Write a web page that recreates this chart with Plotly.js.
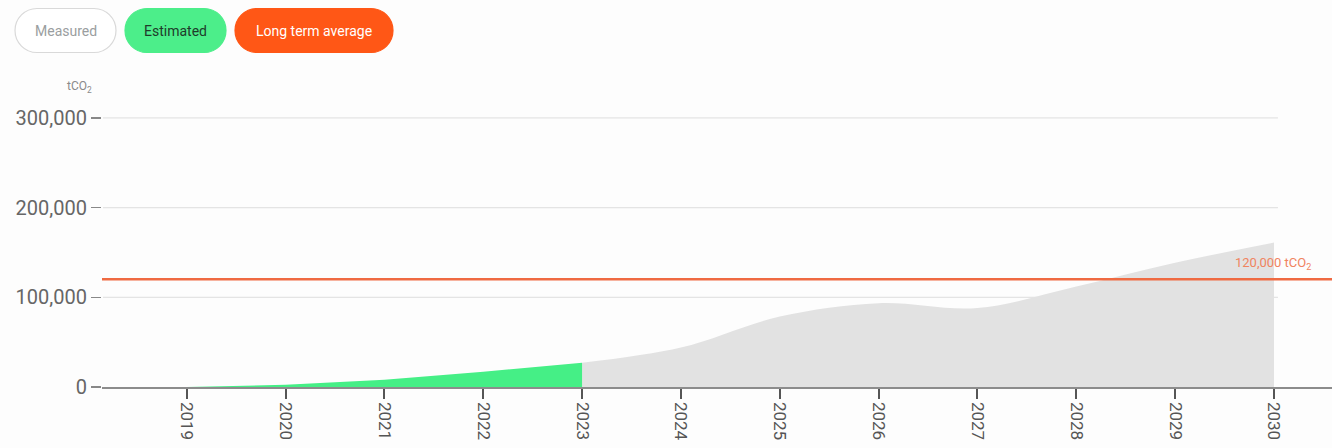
<!DOCTYPE html>
<html>
<head>
<meta charset="utf-8">
<script src="https://cdn.plot.ly/plotly-3.0.1.min.js"></script>
<style>
  html, body { margin: 0; padding: 0; background: #fdfdfd; }
  #chart { width: 1332px; height: 448px; }
</style>
</head>
<body>
<div id="chart"></div>
<script>
// ---- data ----
const estimatedYears = [2019, 2020, 2021, 2022, 2023];
const estimatedValues = [0, 2500, 8000, 17000, 27000];
const projectedYears = [2023, 2024, 2025, 2026, 2027, 2028, 2029, 2030];
const projectedValues = [27000, 44000, 78500, 93500, 88000, 112000, 138500, 161000];
const longTermAverage = 120000;
const yTicks = [0, 100000, 200000, 300000];
const xTicks = [2019, 2020, 2021, 2022, 2023, 2024, 2025, 2026, 2027, 2028, 2029, 2030];
const legendLabels = ["Measured", "Estimated", "Long term average"];
const unitLabel = "tCO<sub>2</sub>";

// ---- layout geometry ----
const W = 1332, H = 448;
const M = { l: 102, r: 0, t: 82, b: 61 };
const PW = W - M.l - M.r, PH = H - M.t - M.b;
const xRange = [2018.143, 2030.587];
const yRange = [0, 340000];
const px2x = px => (px - M.l) / PW;
const py2y = py => (H - M.b - py) / PH;

function pillPath(w, h) {
  const r = h / 2, a = w / 2 - r, k = 0.5523 * r;
  return `M ${-a},${-r} L ${a},${-r} ` +
    `C ${a + k},${-r} ${a + r},${-k} ${a + r},0 ` +
    `C ${a + r},${k} ${a + k},${r} ${a},${r} ` +
    `L ${-a},${r} ` +
    `C ${-a - k},${r} ${-a - r},${k} ${-a - r},0 ` +
    `C ${-a - r},${-k} ${-a - k},${-r} ${-a},${-r} Z`;
}

const pills = [
  { x0: 15, x1: 116, fill: '#ffffff', line: '#d9d9d9', text: '#9a9ea0', label: legendLabels[0] },
  { x0: 125, x1: 226, fill: '#4cee8a', line: '#4cee8a', text: '#1f3b2a', label: legendLabels[1] },
  { x0: 235, x1: 393, fill: '#ff5716', line: '#ff5716', text: '#ffffff', label: legendLabels[2] }
];
const pillTop = 8.5, pillBottom = 52.5;

const shapes = [];
const annotations = [];

pills.forEach(p => {
  const cx = (p.x0 + p.x1) / 2, cy = (pillTop + pillBottom) / 2;
  shapes.push({
    type: 'path', xref: 'paper', yref: 'paper',
    xsizemode: 'pixel', ysizemode: 'pixel',
    xanchor: px2x(cx), yanchor: py2y(cy),
    path: pillPath(p.x1 - p.x0, pillBottom - pillTop),
    fillcolor: p.fill, line: { color: p.line, width: 1.2 }
  });
  annotations.push({
    xref: 'paper', yref: 'paper', x: px2x(cx), y: py2y(cy),
    text: p.label, showarrow: false, xanchor: 'center', yanchor: 'middle',
    font: { family: 'Roboto, sans-serif', size: 14, color: p.text }
  });
});

// gridlines (end just past the last year)
yTicks.filter(v => v > 0).forEach(v => {
  shapes.push({
    type: 'line', xref: 'x', yref: 'y', x0: xRange[0] + 0.01, x1: 2030.04, y0: v, y1: v,
    line: { color: '#e4e4e4', width: 1.2 }, layer: 'below'
  });
});

// long term average line
shapes.push({
  type: 'line', xref: 'paper', yref: 'y', x0: 0, x1: 1,
  y0: longTermAverage, y1: longTermAverage,
  line: { color: '#ef6a42', width: 2.5 }, layer: 'above'
});

annotations.push({
  xref: 'paper', yref: 'y', x: 1, y: longTermAverage,
  xanchor: 'right', yanchor: 'bottom', xshift: -19, yshift: 5,
  text: '120,000 ' + unitLabel, showarrow: false,
  font: { family: 'Roboto, sans-serif', size: 13, color: '#f0845f' }
});

annotations.push({
  xref: 'paper', yref: 'paper', x: px2x(79), y: py2y(87),
  xanchor: 'center', yanchor: 'middle', text: unitLabel, showarrow: false,
  font: { family: 'Roboto, sans-serif', size: 12, color: '#8a8a8a' }
});

const traces = [
  {
    x: projectedYears, y: projectedValues, type: 'scatter', mode: 'lines',
    fill: 'tozeroy', fillcolor: '#e2e2e2',
    line: { width: 0, shape: 'spline', smoothing: 1, color: '#e2e2e2' },
    hoverinfo: 'skip', showlegend: false
  },
  {
    x: estimatedYears, y: estimatedValues, type: 'scatter', mode: 'lines',
    fill: 'tozeroy', fillcolor: '#45ef86',
    line: { width: 0, color: '#45ef86' },
    hoverinfo: 'skip', showlegend: false
  }
];

const layout = {
  width: W, height: H,
  margin: M,
  paper_bgcolor: '#fdfdfd', plot_bgcolor: '#fdfdfd',
  showlegend: false,
  font: { family: 'Roboto, sans-serif' },
  xaxis: {
    range: xRange, tickmode: 'array', tickvals: xTicks, ticktext: xTicks.map(String),
    tickangle: 90, ticks: 'outside', ticklen: 10, tickwidth: 2, tickcolor: '#555',
    showline: true, linecolor: '#8c8c8c', linewidth: 1.5,
    showgrid: false, zeroline: false,
    tickfont: { size: 17, color: '#555', family: 'Roboto, sans-serif' },
    fixedrange: true
  },
  yaxis: {
    range: yRange, tickmode: 'array', tickvals: yTicks,
    ticktext: yTicks.map(v => v.toLocaleString('en-US')),
    ticks: 'outside', ticklen: 10, tickwidth: 1.5, tickcolor: '#888',
    showline: false, showgrid: false, zeroline: false,
    tickfont: { size: 20, color: '#666', family: 'Roboto, sans-serif' },
    fixedrange: true
  },
  shapes: shapes,
  annotations: annotations
};

Plotly.newPlot('chart', traces, layout, { displayModeBar: false, staticPlot: true });
</script>
</body>
</html>
